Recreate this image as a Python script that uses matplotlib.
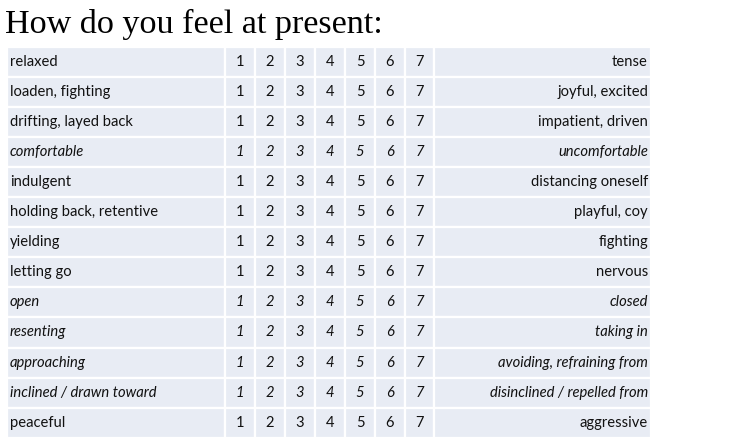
import matplotlib
matplotlib.use("Agg")
import matplotlib.pyplot as plt
from matplotlib.patches import Rectangle

title = "How do you feel at present:"
left_labels = ["relaxed", "loaden, fighting", "drifting, layed back", "comfortable",
               "indulgent", "holding back, retentive", "yielding", "letting go",
               "open", "resenting", "approaching", "inclined / drawn toward", "peaceful"]
right_labels = ["tense", "joyful, excited", "impatient, driven", "uncomfortable",
                "distancing oneself", "playful, coy", "fighting", "nervous",
                "closed", "taking in", "avoiding, refraining from",
                "disinclined / repelled from", "aggressive"]
italic_rows = [False, False, False, True, False, False, False, False,
               True, True, True, True, False]
scale = [1, 2, 3, 4, 5, 6, 7]

W, H = 742, 443
fig = plt.figure(figsize=(W / 100, H / 100), dpi=100)
ax = fig.add_axes([0, 0, 1, 1])
ax.set_xlim(0, W)
ax.set_ylim(H, 0)
ax.axis("off")

cell_color = "#E8ECF4"
text_color = "#111111"
body_font = ["Lato", "DejaVu Sans"]
fs = 10.6

top = 46.5
row_h = 30.1
col_bounds = [7, 225, 255, 285, 315, 345, 375, 405, 434, 651]

fig.text(5 / W, 1 - 33 / H, title, family=["Liberation Serif"], fontsize=24.6,
         color="black", ha="left", va="baseline")

for i, (ll, rl, it) in enumerate(zip(left_labels, right_labels, italic_rows)):
    y0 = top + i * row_h
    yc = y0 + row_h / 2
    for c in range(len(col_bounds) - 1):
        x0, x1 = col_bounds[c], col_bounds[c + 1]
        ax.add_patch(Rectangle((x0, y0), x1 - x0, row_h, facecolor=cell_color,
                               edgecolor="white", linewidth=1.6))
    style = "italic" if it else "normal"
    ax.text(col_bounds[0] + 3, yc, ll, ha="left", va="center", fontsize=fs,
            family=body_font, style=style, color=text_color)
    for k, v in enumerate(scale):
        xc = (col_bounds[1 + k] + col_bounds[2 + k]) / 2
        ax.text(xc, yc, str(v), ha="center", va="center", fontsize=fs,
                family=body_font, style=style, color=text_color)
    ax.text(col_bounds[-1] - 3, yc, rl, ha="right", va="center", fontsize=fs,
            family=body_font, style=style, color=text_color)

fig.savefig("out.png", dpi=100, facecolor="white")
